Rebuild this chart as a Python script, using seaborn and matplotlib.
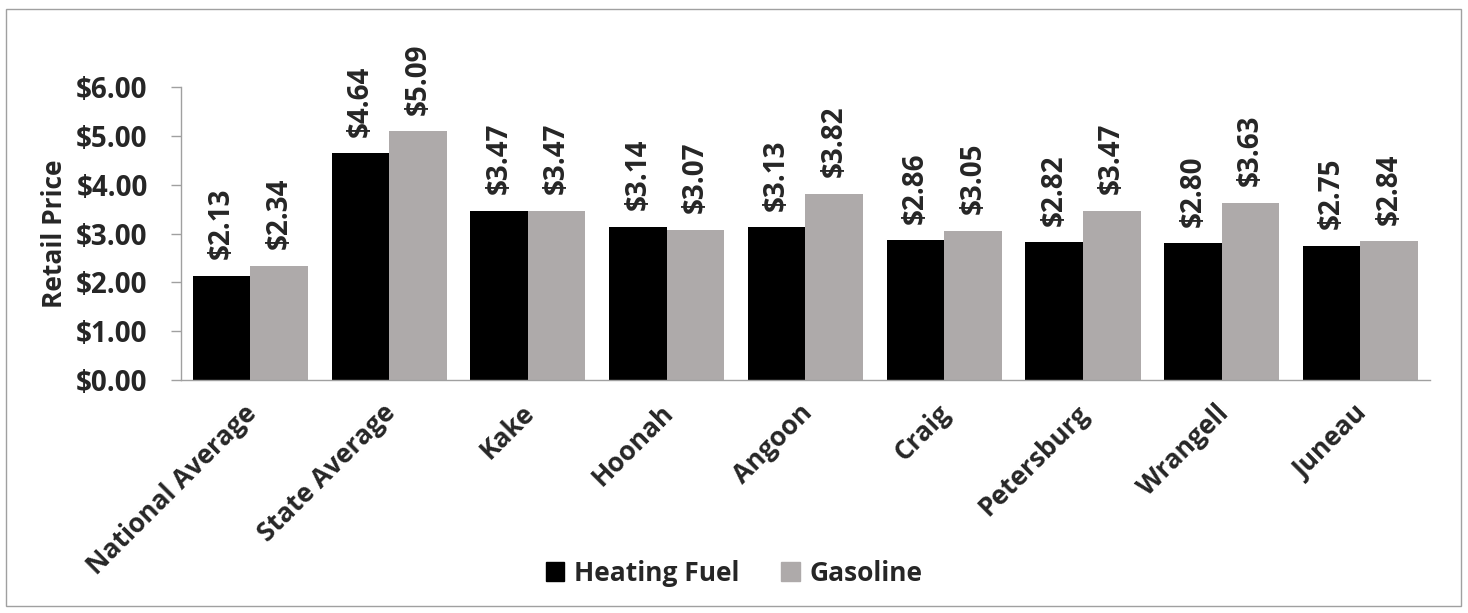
import matplotlib
matplotlib.use('Agg')
import matplotlib.pyplot as plt
import matplotlib.patches as mpatches
import numpy as np
import pandas as pd
import seaborn as sns

sns.set_style('white')
plt.rcParams.update({'font.family': ['Open Sans', 'DejaVu Sans'],
                     'font.weight': 'bold',
                     'font.size': 19})

places = ['National Average', 'State Average', 'Kake', 'Hoonah', 'Angoon',
          'Craig', 'Petersburg', 'Wrangell', 'Juneau']
heating_fuel = [2.13, 4.64, 3.47, 3.14, 3.13, 2.86, 2.82, 2.80, 2.75]
gasoline = [2.34, 5.09, 3.47, 3.07, 3.82, 3.05, 3.47, 3.63, 2.84]
series = ['Heating Fuel', 'Gasoline']
colors = ['#000000', '#AEAAAA']

df = pd.DataFrame({'place': places * 2,
                   'price': heating_fuel + gasoline,
                   'fuel': np.repeat(series, len(places))})

fig = plt.figure(figsize=(14.68, 6.13), dpi=100)
ax = fig.add_axes([0.1233, 0.380, 0.8507, 0.478])

sns.barplot(ax=ax, data=df, x='place', y='price', hue='fuel', palette=colors,
            width=0.83, saturation=1, errorbar=None, legend=False, linewidth=0)

for cont in ax.containers:
    ax.bar_label(cont, labels=['$%.2f' % v for v in cont.datavalues],
                 rotation=90, padding=12, fontsize=20, fontweight='bold')

ax.set_ylim(0, 6)
ax.set_xlim(-0.5, len(places) - 0.5)
ax.set_yticks(range(7))
ax.set_yticklabels(['$%.2f' % v for v in range(7)], fontsize=20, fontweight='bold')

# category labels drawn as annotations so they can sit a little down-left
ax.set_xticks(range(len(places)))
ax.set_xticklabels([])
for i, name in enumerate(places):
    ax.annotate(name, xy=(i, 0), xycoords=('data', 'axes fraction'),
                xytext=(-5, -14), textcoords='offset points',
                rotation=45, ha='right', va='top', rotation_mode='anchor',
                fontsize=19, fontweight='bold', annotation_clip=False)
ax.set_xticks(np.arange(-0.5, len(places)), minor=True)
ax.tick_params(axis='x', which='major', length=0)
ax.tick_params(axis='x', which='minor', length=7, color='#A0A0A0', width=1)
ax.tick_params(axis='y', length=7, color='#A0A0A0', width=1, left=True, pad=17)
ax.set_xlabel('')
ax.set_ylabel('Retail Price', fontsize=19, fontweight='bold', labelpad=6)

for s in ['top', 'right']:
    ax.spines[s].set_visible(False)
for s in ['left', 'bottom']:
    ax.spines[s].set_color('#A0A0A0')
    ax.spines[s].set_linewidth(1)

handles = [mpatches.Patch(color=c, label=n) for c, n in zip(colors, series)]
fig.legend(handles=handles, loc='center', bbox_to_anchor=(0.5, 0.065), ncol=2,
           frameon=False, handlelength=0.7, handleheight=0.7, handletextpad=0.35,
           columnspacing=1.6, prop={'size': 19, 'weight': 'bold'})

fig.patches.append(mpatches.Rectangle((6 / 1468, 7 / 613), 1455 / 1468, 597 / 613,
                                      transform=fig.transFigure, fill=False,
                                      edgecolor='#A0A0A0', linewidth=1))

fig.savefig('out.png', dpi=100)
